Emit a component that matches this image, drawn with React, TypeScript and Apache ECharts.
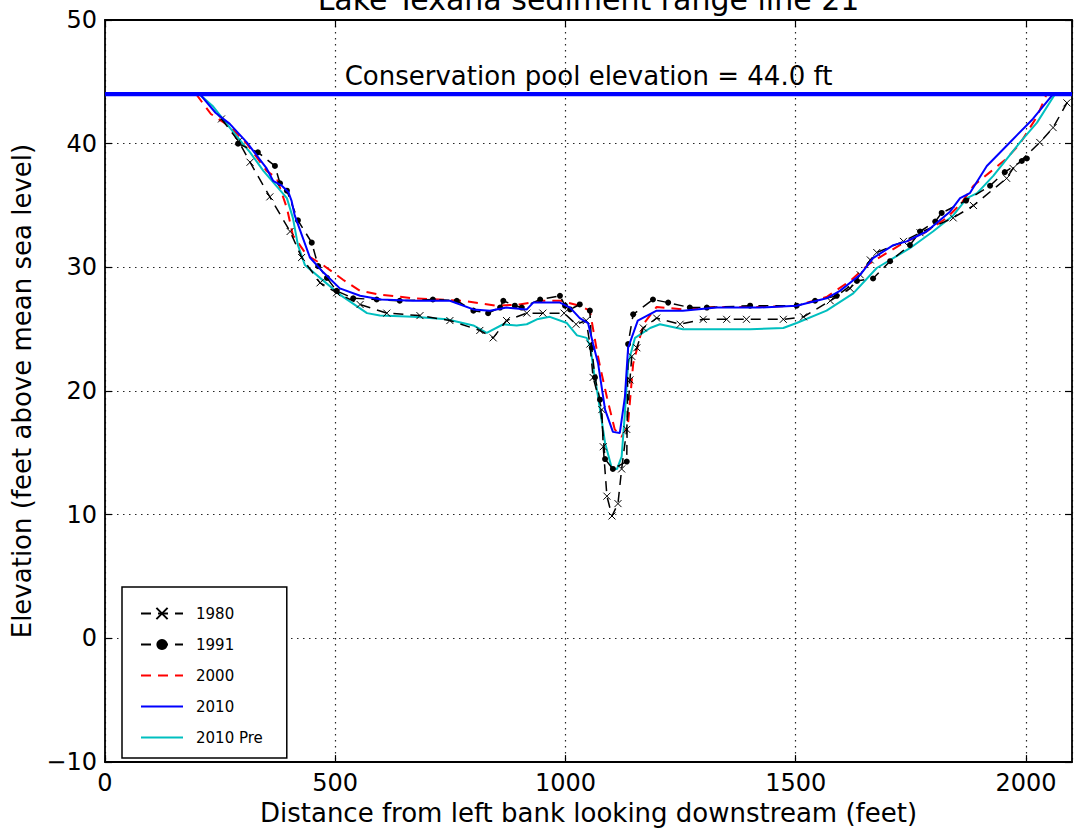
import React, { useEffect, useRef } from 'react';
import * as echarts from 'echarts';

const FONT = 'DejaVu Sans';

const titleText = 'Lake Texana sediment range line 21';
const xAxisName = 'Distance from left bank looking downstream (feet)';
const yAxisName = 'Elevation (feet above mean sea level)';
const poolElevation = 44.0;
const poolLabel = 'Conservation pool elevation = 44.0 ft';

const xTickStep = 500;
const xMin = 0;
const xMax = 2100;
const yTickStep = 10;
const yMin = -10;
const yMax = 50;

const legendNames = ['1980', '1991', '2000', '2010', '2010 Pre'];

const x1980 = [253, 290, 315, 358, 402, 427, 467, 503, 554, 612, 684, 749, 814, 843, 872, 916, 951, 997, 1023, 1045, 1053, 1060, 1079, 1082, 1090, 1101, 1114, 1122, 1133, 1140, 1144, 1155, 1169, 1198, 1249, 1299, 1350, 1393, 1473, 1517, 1575, 1618, 1640, 1662, 1676, 1734, 1770, 1842, 1886, 1958, 1972, 2030, 2059, 2089];
const y1980 = [42, 40.2, 38.5, 35.7, 32.9, 30.8, 28.75, 27.95, 27, 26.3, 26.1, 25.7, 24.9, 24.3, 25.7, 26.3, 26.3, 26.3, 25.4, 25.7, 23.8, 21.1, 18.5, 15.5, 11.5, 9.9, 10.9, 13.7, 16.9, 20.9, 22.8, 23.5, 25.1, 25.9, 25.4, 25.8, 25.8, 25.8, 25.8, 26, 27.3, 28.3, 29.4, 30.6, 31.2, 32.1, 32.8, 34, 35, 37.2, 38, 40.1, 41.3, 43.3];

const x1991 = [289, 332, 369, 380, 395, 419, 449, 463, 482, 503, 539, 590, 640, 712, 764, 800, 832, 858, 865, 890, 905, 945, 988, 999, 1010, 1031, 1053, 1057, 1064, 1075, 1086, 1103, 1133, 1136, 1147, 1190, 1223, 1270, 1307, 1401, 1502, 1542, 1589, 1633, 1668, 1705, 1748, 1770, 1803, 1817, 1870, 1922, 1954, 1991, 2002];
const y1991 = [40, 39.3, 38.2, 36.8, 36.2, 33.8, 32, 30.1, 29.15, 28.1, 27.5, 27.4, 27.3, 27.4, 27.3, 26.5, 26.3, 26.75, 27.3, 26.9, 26.75, 27.4, 27.7, 26.9, 26.6, 27, 26.5, 23.5, 21.1, 19.3, 14.5, 13.7, 14.3, 23.8, 26.2, 27.4, 27.15, 26.75, 26.75, 26.9, 26.9, 27.3, 27.7, 28.9, 29.1, 30.5, 31.8, 32.9, 33.7, 34.4, 35.4, 36.6, 37.7, 38.6, 38.8];

const x2000 = [198, 230, 271, 308, 351, 373, 395, 408, 438, 473, 517, 554, 597, 669, 777, 850, 900, 950, 990, 1030, 1053, 1068, 1075, 1090, 1107, 1122, 1136, 1147, 1169, 1198, 1255, 1329, 1422, 1502, 1567, 1618, 1660, 1726, 1780, 1828, 1860, 1886, 1922, 1958, 1987, 2024, 2045];
const y2000 = [44, 42.4, 41.4, 40, 37.8, 37.2, 34.8, 32.6, 31, 30.2, 29, 28.1, 27.8, 27.5, 27.3, 26.9, 27, 27.3, 27.3, 26.9, 26.5, 23.3, 22, 19.5, 16.9, 16.3, 17.4, 22.2, 25.4, 26.8, 26.6, 26.8, 26.8, 26.9, 27.6, 28.9, 30.3, 31.8, 32.8, 34, 35.2, 36.6, 37.7, 38.8, 40, 42.2, 44];

const x2010 = [206, 240, 271, 308, 351, 365, 384, 398, 405, 412, 445, 474, 510, 554, 600, 669, 749, 800, 836, 872, 916, 930, 988, 1010, 1031, 1049, 1060, 1071, 1086, 1103, 1118, 1129, 1136, 1157, 1198, 1255, 1329, 1422, 1502, 1567, 1596, 1640, 1668, 1712, 1741, 1784, 1835, 1857, 1878, 1915, 1965, 2015, 2059];
const y2010 = [44, 42.5, 41.6, 40.1, 38, 37, 36.6, 36.1, 35.4, 34.2, 30.8, 29.6, 28.3, 27.7, 27.4, 27.3, 27.3, 26.6, 26.5, 26.75, 26.6, 27.15, 27.15, 26.75, 25.9, 25.5, 23.8, 22.2, 18.5, 16.7, 16.6, 19.5, 23.5, 25.7, 26.5, 26.5, 26.75, 26.75, 26.9, 27.5, 28.1, 29.4, 30.75, 31.8, 32.1, 32.9, 34.5, 35.6, 36, 38.2, 40.1, 42, 44];

const x2010Pre = [205, 235, 286, 315, 344, 395, 408, 419, 434, 467, 510, 569, 597, 669, 742, 800, 829, 865, 894, 916, 938, 966, 1003, 1025, 1046, 1054, 1062, 1071, 1086, 1101, 1112, 1122, 1129, 1136, 1151, 1184, 1205, 1255, 1329, 1401, 1473, 1502, 1567, 1625, 1676, 1748, 1798, 1842, 1872, 1894, 1929, 1987, 2024, 2063];
const y2010Pre = [44, 43, 40.6, 39.3, 37.8, 35.6, 34, 31.8, 30.2, 29.15, 27.8, 26.3, 26.1, 26, 25.8, 25.3, 24.7, 25.4, 25.3, 25.4, 25.8, 26, 25.5, 24.5, 24.3, 23.6, 21.5, 19.5, 15.8, 13.7, 13.7, 14.7, 18.2, 22.2, 24.3, 25.1, 25.4, 25, 25, 25, 25.1, 25.5, 26.5, 27.9, 29.95, 31.55, 32.9, 34.2, 35.6, 36, 37.4, 40.1, 41.7, 44];

const zip = (xs: number[], ys: number[]) => xs.map((x, i) => [x, ys[i]]);
const fmtTick = (v: number) => (v < 0 ? '\u2212' + Math.abs(v) : String(v));

const CROSS = 'path://M0,0L10,10M0,10L10,0';

export default function App() {
  const ref = useRef<HTMLDivElement>(null);
  useEffect(() => {
    if (!ref.current) return;
    const chart = echarts.init(ref.current, undefined, { renderer: 'svg' });
    const grid = { left: 105, top: 20, width: 967, height: 748 };
    const dashed = [10, 7];
    const tickStyle = { inside: true, length: 7, lineStyle: { color: '#000', width: 1.2 } };
    const axisLine = { show: true, onZero: false, lineStyle: { color: '#000', width: 1.8 } };
    const split = { show: true, lineStyle: { color: '#000', type: [1.5, 4.5], width: 1.2, opacity: 0.85 } };
    chart.setOption({
      animation: false,
      backgroundColor: '#fff',
      textStyle: { fontFamily: FONT },
      title: {
        text: titleText,
        left: grid.left + grid.width / 2,
        textAlign: 'center',
        top: -16,
        padding: 0,
        textStyle: { fontFamily: FONT, fontSize: 30, fontWeight: 'normal', color: '#000' },
      },
      grid,
      legend: {
        data: legendNames.map((n, i) => (i < 2 ? { name: n } : { name: n, itemStyle: { opacity: 0 } })),
        orient: 'vertical',
        left: 122,
        top: 587,
        itemWidth: 42,
        itemHeight: 14,
        itemGap: 16,
        padding: [19, 24, 13, 18],
        borderColor: '#000',
        borderWidth: 1.5,
        borderRadius: 0,
        backgroundColor: '#fff',
        textStyle: { fontFamily: FONT, fontSize: 15, color: '#000', padding: [0, 0, 0, 8] },
      },
      xAxis: [
        {
          type: 'value',
          min: xMin,
          max: xMax,
          interval: xTickStep,
          name: xAxisName,
          nameLocation: 'middle',
          nameGap: 33,
          nameTextStyle: { fontFamily: FONT, fontSize: 26, color: '#000' },
          axisLine,
          axisTick: tickStyle,
          axisLabel: { fontFamily: FONT, fontSize: 24, color: '#000', margin: 9, showMaxLabel: false, formatter: fmtTick },
          splitLine: split,
        },
        {
          type: 'value',
          position: 'top',
          min: xMin,
          max: xMax,
          interval: xTickStep,
          axisLine,
          axisTick: tickStyle,
          axisLabel: { show: false },
          splitLine: { show: false },
        },
      ],
      yAxis: [
        {
          type: 'value',
          min: yMin,
          max: yMax,
          interval: yTickStep,
          name: yAxisName,
          nameLocation: 'middle',
          nameGap: 70,
          nameTextStyle: { fontFamily: FONT, fontSize: 26, color: '#000' },
          axisLine,
          axisTick: tickStyle,
          axisLabel: { fontFamily: FONT, fontSize: 24, color: '#000', margin: 8, formatter: fmtTick },
          splitLine: split,
        },
        {
          type: 'value',
          position: 'right',
          min: yMin,
          max: yMax,
          interval: yTickStep,
          axisLine,
          axisTick: tickStyle,
          axisLabel: { show: false },
          splitLine: { show: false },
        },
      ],
      series: [
        {
          name: 'Conservation pool',
          type: 'line',
          data: [[xMin, poolElevation], [xMax, poolElevation]],
          showSymbol: false,
          symbol: 'none',
          lineStyle: { color: '#0000ff', width: 4 },
          z: 5,
          markLine: {
            silent: true,
            symbol: 'none',
            data: [{ yAxis: poolElevation }],
            lineStyle: { color: '#0000ff', width: 4, type: 'solid' },
            label: {
              show: true,
              position: 'middle',
              distance: 5,
              formatter: poolLabel,
              fontFamily: FONT,
              fontSize: 26,
              color: '#000',
            },
          },
        },
        {
          name: '1980',
          type: 'line',
          data: zip(x1980, y1980),
          symbol: CROSS,
          symbolSize: 7,
          showAllSymbol: true,
          lineStyle: { color: '#000', width: 1.5, type: dashed },
          itemStyle: { color: '#000', borderColor: '#000', borderWidth: 1 },
          z: 3,
        },
        {
          name: '1991',
          type: 'line',
          data: zip(x1991, y1991),
          symbol: 'circle',
          symbolSize: 6,
          showAllSymbol: true,
          lineStyle: { color: '#000', width: 1.5, type: dashed },
          itemStyle: { color: '#000', borderWidth: 0 },
          z: 3,
        },
        {
          name: '2000',
          type: 'line',
          data: zip(x2000, y2000),
          symbol: 'none',
          lineStyle: { color: '#ff0000', width: 2, type: dashed },
          itemStyle: { color: '#ff0000' },
          z: 2,
        },
        {
          name: '2010',
          type: 'line',
          data: zip(x2010, y2010),
          symbol: 'none',
          lineStyle: { color: '#0000ff', width: 2 },
          itemStyle: { color: '#0000ff' },
          z: 4,
        },
        {
          name: '2010 Pre',
          type: 'line',
          data: zip(x2010Pre, y2010Pre),
          symbol: 'none',
          lineStyle: { color: '#00bfbf', width: 2 },
          itemStyle: { color: '#00bfbf' },
          z: 2,
        },
      ],
    });
    return () => chart.dispose();
  }, []);
  return (
    <div
      ref={ref}
      style={{ position: 'fixed', left: 0, top: 0, width: 1074, height: 831, background: '#fff' }}
    />
  );
}
